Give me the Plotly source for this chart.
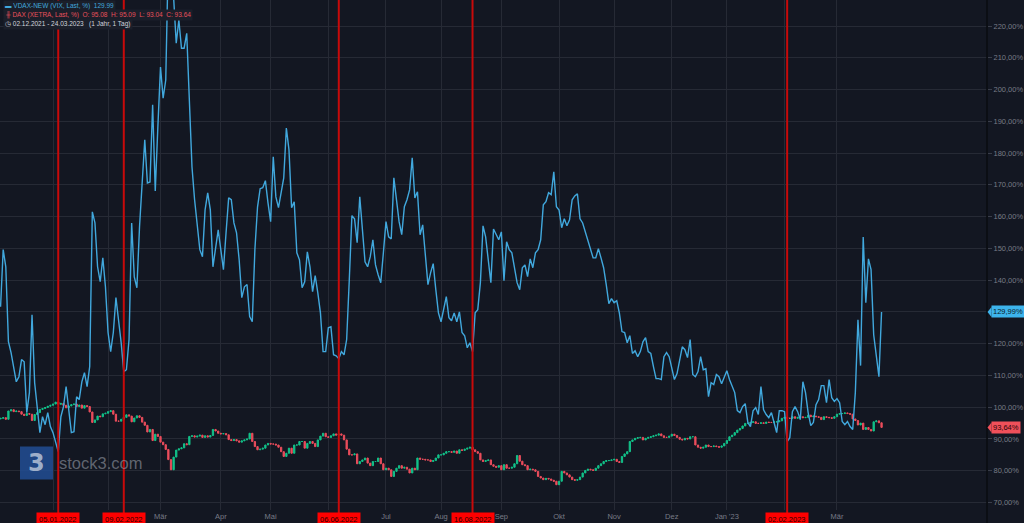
import plotly.graph_objects as go

# ---------------- data (trading-day index 0 = 02.12.2021) ----------------
vdax = [
    131.6, 149.6, 144.2, 120.6, 117.2, 113.0, 108.0, 109.6, 115.0, 114.3,
    98.3, 104.6, 129.1, 107.7, 99.2, 92.0, 97.0, 94.5, 98.3, 93.9,
    92.0, 89.0, 86.0, 97.0, 100.2, 106.5, 98.3, 92.0, 92.3, 103.3,
    102.4, 108.0, 110.9, 106.5, 112.8, 161.5, 158.0, 144.2, 139.5, 147.0,
    137.9, 123.5, 117.5, 123.5, 134.5, 127.5, 120.3, 111.2, 111.8, 121.3,
    158.0, 141.0, 137.6, 156.8, 170.6, 184.2, 170.6, 170.9, 195.2, 168.1,
    188.4, 207.1, 197.3, 203.0, 243.0, 236.0, 229.0, 214.6, 221.9, 213.0,
    213.0, 217.7, 196.6, 175.7, 165.3, 157.0, 149.6, 147.4, 162.1, 167.5,
    162.1, 144.2, 150.5, 155.8, 149.6, 143.3, 154.9, 165.9, 165.3, 158.0,
    154.9, 146.4, 134.5, 137.9, 138.6, 128.5, 126.9, 149.6, 163.0, 168.8,
    169.1, 171.3, 164.3, 158.4, 178.8, 166.2, 162.8, 166.9, 172.2, 187.9,
    181.0, 162.8, 164.7, 148.6, 146.4, 137.6, 139.5, 148.9, 144.2, 136.4,
    141.4, 136.0, 129.7, 117.5, 117.5, 125.0, 125.3, 116.5, 116.2, 115.3,
    117.5, 116.5, 121.3, 140.1, 160.3, 159.3, 151.8, 166.2, 156.8, 145.8,
    144.2, 147.4, 152.7, 144.8, 141.7, 139.2, 148.6, 158.4, 153.6, 153.0,
    172.2, 165.3, 158.4, 154.3, 163.1, 165.3, 168.4, 178.5, 165.9, 167.8,
    154.3, 157.4, 147.4, 138.6, 142.3, 145.2, 137.0, 129.7, 126.9, 130.7,
    134.8, 128.2, 127.2, 129.7, 126.9, 130.0, 123.5, 122.5, 118.7, 120.3,
    117.5, 129.7, 130.7, 139.2, 157.1, 153.6, 145.5, 139.2, 156.1, 154.3,
    152.7, 155.2, 139.8, 152.1, 149.6, 148.6, 143.3, 139.2, 137.0, 143.9,
    144.8, 141.1, 146.7, 143.9, 148.6, 149.6, 152.7, 163.7, 164.7, 167.5,
    166.9, 174.1, 163.1, 162.1, 156.5, 159.3, 157.1, 159.0, 165.3, 166.5,
    167.2, 159.3, 158.0, 155.2, 152.4, 150.2, 147.0, 147.0, 149.9, 147.0,
    143.9, 138.6, 132.6, 134.2, 132.9, 133.5, 129.7, 123.8, 123.5, 120.3,
    122.5, 116.9, 117.8, 115.9, 117.5, 120.6, 121.9, 117.5, 116.9, 112.8,
    109.0, 109.0, 108.7, 115.9, 117.2, 115.9, 112.5, 108.7, 110.6, 114.3,
    119.0, 118.1, 115.6, 121.3, 110.3, 109.6, 111.2, 115.9, 111.8, 112.1,
    103.3, 107.7, 107.1, 110.3, 109.6, 107.4, 109.6, 111.5, 108.7, 106.5,
    104.6, 98.9, 98.3, 100.2, 101.1, 95.2, 93.9, 98.9, 99.9, 97.7,
    106.5, 99.2, 97.7, 96.7, 98.3, 95.2, 92.0, 98.9, 98.9, 98.6,
    89.2, 90.4, 98.6, 100.2, 98.6, 96.1, 108.0, 104.6, 98.3, 94.2,
    95.2, 100.8, 102.4, 106.8, 106.8, 101.4, 108.7, 103.0, 101.8, 102.7,
    101.4, 95.5, 94.5, 95.5, 93.9, 93.0, 104.6, 127.5, 113.1, 153.6,
    132.9, 146.7, 143.3, 122.8, 115.9, 109.6, 129.99,
]

dax_close = [
    96.5, 96.7, 96.2, 98.8, 99.2, 98.6, 98.8, 98.6, 97.8, 97.4,
    98.0, 97.8, 95.8, 97.7, 98.3, 99.3, 99.6, 99.9, 100.3, 100.6,
    101.0, 101.6, 100.9, 101.2, 100.6, 99.8, 100.4, 100.8, 101.0, 100.2,
    100.7, 99.7, 100.5, 100.2, 98.5, 95.2, 96.0, 97.2, 97.0, 97.9,
    98.1, 98.6, 98.9, 97.8, 95.6, 95.6, 96.2, 96.8, 97.6, 97.2,
    95.4, 96.6, 97.3, 96.8, 95.3, 94.3, 92.2, 93.0, 89.5, 91.5,
    90.8, 89.0, 88.2, 86.7, 83.5, 80.3, 84.3, 86.5, 86.9, 87.2,
    88.5, 88.2, 90.8, 91.0, 90.6, 90.9, 91.2, 90.5, 91.0, 90.6,
    91.1, 93.0, 92.5, 91.8, 91.6, 91.7, 91.3, 89.8, 89.5, 89.8,
    89.4, 89.0, 89.4, 89.7, 90.0,
    91.8, 89.2, 87.6, 86.6, 86.8, 87.1, 88.1, 88.6, 88.4, 88.4,
    88.1, 87.4, 86.0, 84.5, 85.5, 87.1, 85.5, 88.1, 88.1, 89.2,
    89.2, 87.1, 88.6, 89.2, 88.6, 87.6, 89.7, 90.9, 91.8, 90.7,
    90.5, 91.0, 91.6, 91.2, 91.6, 91.2, 89.7, 86.8, 85.0, 85.0,
    85.3, 82.2, 82.9, 83.4, 84.0, 82.4, 81.6, 82.9, 82.9, 84.0,
    82.2, 80.3, 80.8, 80.3, 78.2, 79.8, 80.8, 81.6, 80.8, 81.1,
    80.5, 79.3, 80.8, 80.3, 84.0, 83.6, 83.6, 83.4, 83.4, 82.9,
    83.2, 84.0, 85.0, 85.0, 85.5, 86.0, 86.0, 85.8, 86.2, 85.5,
    86.6, 86.4, 86.8, 87.1, 87.4, 86.6, 86.0, 85.5, 83.4, 82.9,
    83.2, 83.4, 81.9, 81.4, 81.1, 81.6, 80.3, 81.9, 80.8, 80.8,
    81.1, 82.2, 84.8, 83.0, 81.9, 81.6, 80.3, 80.5, 80.3, 79.8,
    78.2, 77.7, 77.2, 77.6,
    77.4, 77.0, 76.7, 75.6, 76.7, 79.8, 79.3, 78.7, 78.0, 77.2,
    77.0, 77.2, 78.0, 79.3, 80.1, 80.5, 80.3, 80.1, 80.8, 81.6,
    82.2, 82.9, 83.2, 83.2, 83.4, 83.6, 82.9, 82.6, 84.5, 85.3,
    86.0, 89.2, 89.7, 90.2, 90.4, 90.5, 89.7, 90.2, 90.5, 90.7,
    91.0, 91.2, 91.6, 91.0, 90.5, 90.5, 90.9, 91.5, 91.1, 90.5,
    89.9, 89.7, 90.2, 90.0, 90.7, 90.7, 88.1, 87.4, 87.1, 87.4,
    88.1, 87.6, 87.6, 87.8, 87.6, 87.4, 87.8, 88.6, 89.5, 90.7,
    91.2, 92.0, 92.8, 93.3, 94.1, 94.9, 94.9, 95.2, 95.4, 94.9,
    94.9, 95.1, 94.9, 95.3, 95.2, 95.2, 95.4, 95.4, 95.7, 96.5,
    96.8, 96.5, 96.5, 97.0, 96.5, 96.8, 97.0, 96.7, 96.8, 97.5,
    97.0, 97.2, 97.0, 96.8, 96.1, 97.0, 96.8, 96.7, 96.5, 97.0,
    97.8, 98.0, 98.0, 98.2, 98.0, 97.8, 96.3, 95.8, 94.4, 95.0,
    93.0, 93.6, 93.0, 92.5, 95.4, 95.7, 95.1, 93.64,
]
dax_first_open = 96.3

month_ticks = [20, 41, 61, 84, 103, 125, 147, 168, 191, 213, 234, 256, 277, 299, 319]
month_labels = ["", "", "Mär", "Apr", "Mai", "", "Jul", "Aug", "Sep", "Okt",
                "Nov", "Dez", "Jan '23", "", "Mär"]
event_idx = [22, 47, 129, 180, 300]
event_labels = ["05.01.2022", "09.02.2022", "06.06.2022", "16.08.2022", "02.02.2023"]
y_ticks = list(range(70, 221, 10))
y_hidden = [130]  # covered by the last-price label in the reference

legend_vdax = "VDAX-NEW (VIX, Last, %)\u00a0\u00a0129.99"
legend_dax = "DAX (XETRA, Last, %)\u00a0\u00a0O: 95.08\u00a0\u00a0H: 95.09\u00a0\u00a0L: 93.04\u00a0\u00a0C: 93.64"
legend_range = "02.12.2021 - 24.03.2023\u00a0\u00a0\u00a0(1 Jahr, 1 Tag)"

# ---------------- derived series ----------------
x = list(range(len(vdax)))
dax_open = [dax_first_open] + dax_close[:-1]
dax_high = [max(o, c) for o, c in zip(dax_open, dax_close)]
dax_low = [min(o, c) for o, c in zip(dax_open, dax_close)]

def pct(v):
    return f"{v:.2f}%".replace(".", ",")

y_ticktext = ["" if v in y_hidden else pct(v) for v in y_ticks]

# ---------------- style ----------------
W, H = 1024, 523
ML, MR, MT, MB = 0, 37, 0, 13
PW, PH = W - ML - MR, H - MT - MB
BG = "#131722"
GRID = "#262a35"
AX = "#787b86"
BLUE = "#41a8dd"
UP = "#12c189"
DOWN = "#eb4d5c"
FONT = "Liberation Sans, Arial, sans-serif"

def px_x(p):
    return p / PW

def px_y(p):
    return 1 - p / PH

fig = go.Figure()

fig.add_trace(go.Candlestick(
    x=x, open=dax_open, high=dax_high, low=dax_low, close=dax_close,
    increasing=dict(line=dict(color=UP, width=1), fillcolor=UP),
    decreasing=dict(line=dict(color=DOWN, width=1), fillcolor=DOWN),
    whiskerwidth=0, showlegend=False, hoverinfo="skip",
))

fig.add_trace(go.Scatter(
    x=x, y=vdax, mode="lines",
    line=dict(color=BLUE, width=1.4),
    showlegend=False, hoverinfo="skip",
))

shapes = []
for ix in event_idx:
    shapes.append(dict(type="line", xref="x", yref="paper", x0=ix, x1=ix,
                       y0=-MB / PH, y1=1, line=dict(color="#c80a0a", width=2),
                       layer="above"))
# right axis separator
shapes.append(dict(type="line", xref="paper", yref="paper", x0=1, x1=1,
                   y0=-MB / PH, y1=1, line=dict(color="#0a0c11", width=1.5)))
# price label arrows
for val, col in [(vdax[-1], "#3db4ec"), (dax_close[-1], "#f0505a")]:
    shapes.append(dict(type="path", xref="paper", yref="y",
                       xsizemode="pixel", ysizemode="pixel",
                       xanchor=1, yanchor=val,
                       path="M0.5,0 L4.5,5 L4.5,-5 Z",
                       fillcolor=col, line=dict(width=0)))
# watermark logo square
shapes.append(dict(type="rect", xref="paper", yref="paper",
                   x0=px_x(20), x1=px_x(53), y0=px_y(479.5), y1=px_y(446.5),
                   fillcolor="rgba(34,78,148,0.85)", line=dict(width=0),
                   layer="above"))

ann = []
for ix, lab in zip(event_idx, event_labels):
    ann.append(dict(x=ix, xref="x", y=0, yref="paper", yanchor="top",
                    xanchor="center", yshift=-2, text=lab, showarrow=False,
                    font=dict(family=FONT, size=7.5, color="#2b0000"),
                    bgcolor="#ff0000", borderpad=2))

ann.append(dict(x=0, xref="paper", xanchor="left", xshift=3,
                y=px_y(6.3), yref="paper", yanchor="middle",
                text="\u25ac\u00a0" + legend_vdax, showarrow=False,
                font=dict(family=FONT, size=6.5, color=BLUE),
                bgcolor="#1b1f2a", borderpad=1))
ann.append(dict(x=0, xref="paper", xanchor="left", xshift=3,
                y=px_y(15.3), yref="paper", yanchor="middle",
                text="\u256b\u00a0" + legend_dax, showarrow=False,
                font=dict(family=FONT, size=6.5, color="#e8505b"),
                bgcolor="#1b1f2a", borderpad=1))
ann.append(dict(x=0, xref="paper", xanchor="left", xshift=3,
                y=px_y(24.2), yref="paper", yanchor="middle",
                text="\u25f7\u00a0" + legend_range, showarrow=False,
                font=dict(family=FONT, size=6.5, color="#d1d4dc"),
                bgcolor="#1b1f2a", borderpad=1))

# price labels on the right axis
ann.append(dict(x=1, xref="paper", xanchor="left", xshift=4,
                y=vdax[-1], yref="y", yanchor="middle",
                text=pct(vdax[-1]), showarrow=False,
                font=dict(family=FONT, size=7.5, color="#0c1a27"),
                bgcolor="#3db4ec", borderpad=1))
ann.append(dict(x=1, xref="paper", xanchor="left", xshift=4,
                y=dax_close[-1], yref="y", yanchor="middle",
                text=pct(dax_close[-1]), showarrow=False,
                font=dict(family=FONT, size=7.5, color="#2a0508"),
                bgcolor="#f0505a", borderpad=1))

# watermark
ann.append(dict(x=px_x(36.5), xref="paper", xanchor="center",
                y=px_y(463), yref="paper", yanchor="middle",
                text="<b>3</b>", showarrow=False,
                font=dict(family="DejaVu Sans, sans-serif", size=24,
                          color="rgba(175,190,212,0.9)")))
ann.append(dict(x=px_x(57), xref="paper", xanchor="left",
                y=px_y(463), yref="paper", yanchor="middle",
                text="stock3.com", showarrow=False,
                font=dict(family=FONT, size=16.5, color="rgba(150,155,166,0.6)")))

y_lo = 70 - 7.5 / 3.177
y_hi = 220 + 26 / 3.177
x_lo = -0.56 / 2.622
x_hi = (PW - 0.56) / 2.622

fig.update_layout(
    width=W, height=H,
    margin=dict(l=ML, r=MR, t=MT, b=MB, pad=0),
    paper_bgcolor=BG, plot_bgcolor=BG,
    separators=",.",
    showlegend=False,
    boxgap=0.3,
    shapes=shapes, annotations=ann,
    xaxis=dict(range=[x_lo, x_hi], tickmode="array", tickvals=month_ticks,
               ticktext=month_labels, showgrid=True, gridcolor=GRID,
               gridwidth=1, zeroline=False, showline=False, ticks="",
               tickfont=dict(family=FONT, size=7.5, color=AX),
               rangeslider=dict(visible=False), automargin=False,
               fixedrange=True),
    yaxis=dict(range=[y_lo, y_hi], side="right", tickmode="array",
               tickvals=y_ticks, ticktext=y_ticktext,
               showgrid=True, gridcolor=GRID, gridwidth=1, zeroline=False,
               showline=False, ticks="outside", ticklen=4, tickcolor="#3a3e4a",
               tickfont=dict(family=FONT, size=7.5, color=AX),
               automargin=False, fixedrange=True),
)

fig.write_html(
    "out.html",
    config={"displayModeBar": False, "staticPlot": True},
    post_script="document.body.style.margin='0';document.body.style.padding='0';"
                "document.body.style.overflow='hidden';"
                "document.body.style.background='" + BG + "';",
)
